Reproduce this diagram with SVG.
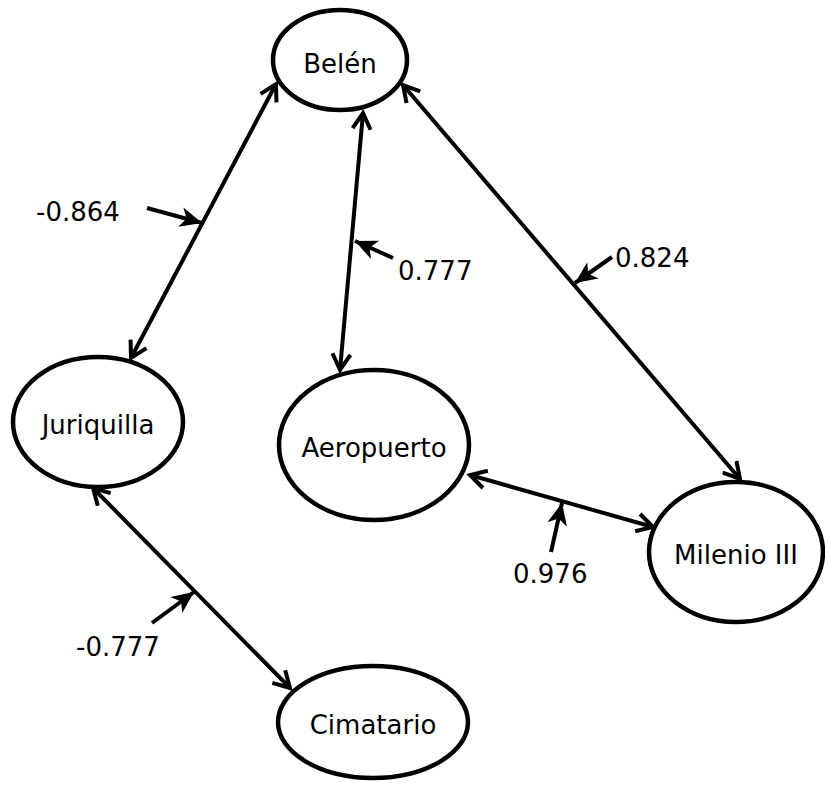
<svg xmlns="http://www.w3.org/2000/svg" width="825" height="786" viewBox="0 0 825 786">
<defs>
<marker id="open" markerUnits="userSpaceOnUse" markerWidth="26" markerHeight="26" refX="19" refY="11" orient="auto-start-reverse" overflow="visible">
<path d="M3,2 L19,11 L3,20" fill="none" stroke="#000" stroke-width="4" stroke-linejoin="miter"/>
</marker>
<marker id="solid" markerUnits="userSpaceOnUse" markerWidth="26" markerHeight="26" refX="22" refY="10" orient="auto" overflow="visible">
<path d="M0,0 L22,10 L0,20 L6,10 Z" fill="#000"/>
</marker>
<style>
.node ellipse{fill:#fff;stroke:#000;stroke-width:4.5}
text{font-family:"DejaVu Sans","Liberation Sans",sans-serif;font-size:26px;fill:#000}
.node text{text-anchor:middle}
.conn{stroke:#000;stroke-width:4;fill:none;marker-start:url(#open);marker-end:url(#open)}
.ptr{stroke:#000;stroke-width:4;fill:none;marker-end:url(#solid)}
</style>
</defs>
<g id="connectors">
<line class="conn" x1="276" y1="84" x2="131" y2="358"/>
<line class="conn" x1="363" y1="113" x2="340" y2="370"/>
<line class="conn" x1="403" y1="85" x2="740" y2="479"/>
<line class="conn" x1="470" y1="475" x2="653" y2="527"/>
<line class="conn" x1="93" y1="488" x2="290" y2="688"/>
<line class="ptr" x1="147" y1="208" x2="202" y2="223"/>
<line class="ptr" x1="393" y1="258" x2="355" y2="241"/>
<line class="ptr" x1="612" y1="257" x2="575" y2="283"/>
<line class="ptr" x1="551" y1="552" x2="562" y2="503"/>
<line class="ptr" x1="152" y1="623" x2="194" y2="592"/>
</g>
<g id="labels">
<text x="36" y="221">-0.864</text>
<text x="398" y="280">0.777</text>
<text x="615" y="267">0.824</text>
<text x="513" y="583">0.976</text>
<text x="76" y="656">-0.777</text>
</g>
<g id="belen" class="node"><ellipse cx="340" cy="60" rx="67" ry="50"/><text x="340" y="73">Belén</text></g>
<g id="juriquilla" class="node"><ellipse cx="98" cy="422" rx="85" ry="65"/><text x="98" y="434">Juriquilla</text></g>
<g id="aeropuerto" class="node"><ellipse cx="374" cy="445" rx="95" ry="75"/><text x="374" y="457">Aeropuerto</text></g>
<g id="milenio" class="node"><ellipse cx="736" cy="552" rx="87" ry="70"/><text x="736" y="564">Milenio III</text></g>
<g id="cimatario" class="node"><ellipse cx="373" cy="722" rx="95" ry="56"/><text x="373" y="734">Cimatario</text></g>
</svg>
